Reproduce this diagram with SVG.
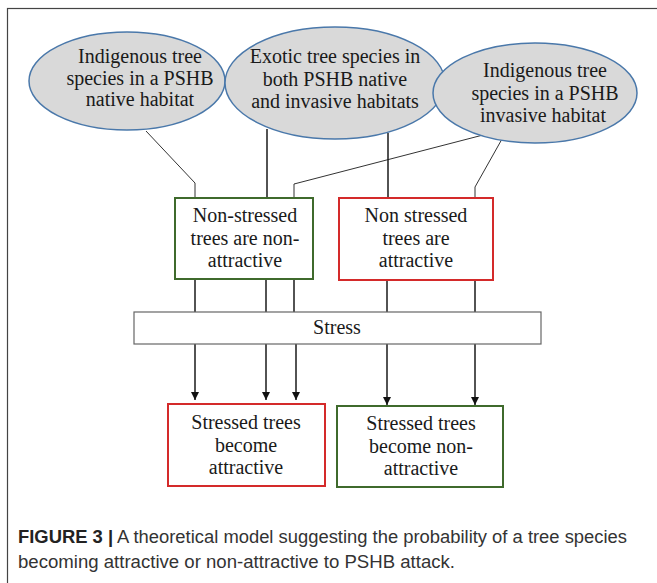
<svg xmlns="http://www.w3.org/2000/svg" width="657" height="583" viewBox="0 0 657 583">
<defs>
<style>
.frame{fill:none;stroke:#444;stroke-width:1.2}
.ell{fill:#d9d9d9;stroke:#4a78aa;stroke-width:1.5}
.t{font-family:"Liberation Serif","Times New Roman",serif;font-size:20px;fill:#1a1a1a;text-anchor:middle}
.green{fill:#fff;stroke:#3f6a2c;stroke-width:2}
.red{fill:#fff;stroke:#d42a2a;stroke-width:2}
.bar{fill:#fff;stroke:#666;stroke-width:1.2}
.v{fill:none;stroke:#1a1a1a;stroke-width:1.5}
.d{fill:none;stroke:#333;stroke-width:1}
.cap{font-family:"Liberation Sans",Arial,sans-serif;font-size:17.5px;fill:#333}
</style>
<marker id="arr" markerUnits="userSpaceOnUse" markerWidth="9" markerHeight="9" refX="8" refY="4" orient="auto">
<path d="M0,0 L8,4 L0,8 z" fill="#111"/>
</marker>
</defs>
<rect width="657" height="583" fill="#fff"/>
<rect class="frame" x="7.5" y="8.5" width="700" height="620"/>

<g id="connectors">
<path class="d" d="M146,131 L195,183 L195,198"/>
<path class="v" d="M267,129 L267,198"/>
<path class="d" d="M483,135 L294,184 L294,198"/>
<path class="v" d="M388,133 L388,198"/>
<path class="d" d="M502,139 L475,187 L475,198"/>
<path class="v" d="M195,279 L195,312"/>
<path class="v" d="M266,279 L266,312"/>
<path class="v" d="M294,279 L294,312"/>
<path class="v" d="M387,280 L387,312"/>
<path class="v" d="M475,280 L475,312"/>
<path class="v" d="M195,344 L195,400" marker-end="url(#arr)"/>
<path class="v" d="M266,344 L266,400" marker-end="url(#arr)"/>
<path class="v" d="M296,344 L296,400" marker-end="url(#arr)"/>
<path class="v" d="M387,344 L387,405" marker-end="url(#arr)"/>
<path class="v" d="M475,344 L475,405" marker-end="url(#arr)"/>
</g>

<g id="ellipse1">
<ellipse class="ell" cx="127" cy="81" rx="98" ry="49"/>
<text class="t" x="140" y="63">Indigenous tree</text>
<text class="t" x="140" y="85">species in a PSHB</text>
<text class="t" x="140" y="106">native habitat</text>
</g>
<g id="ellipse2">
<ellipse class="ell" cx="335" cy="83" rx="110" ry="56"/>
<text class="t" x="335" y="63">Exotic tree species in</text>
<text class="t" x="335" y="86">both PSHB native</text>
<text class="t" x="335" y="108">and invasive habitats</text>
</g>
<g id="ellipse3">
<ellipse class="ell" cx="535" cy="93" rx="102" ry="50"/>
<text class="t" x="545" y="77">Indigenous tree</text>
<text class="t" x="545" y="100">species in a PSHB</text>
<text class="t" x="543" y="122">invasive habitat</text>
</g>

<g id="box-nonstressed-nonattractive">
<rect class="green" x="175" y="198" width="138" height="81"/>
<text class="t" x="245" y="222">Non-stressed</text>
<text class="t" x="245" y="245">trees are non-</text>
<text class="t" x="245" y="267">attractive</text>
</g>
<g id="box-nonstressed-attractive">
<rect class="red" x="339" y="198" width="154" height="82"/>
<text class="t" x="416" y="222">Non stressed</text>
<text class="t" x="416" y="245">trees are</text>
<text class="t" x="416" y="267">attractive</text>
</g>

<g id="stress">
<rect class="bar" x="134" y="312" width="407" height="32"/>
<text class="t" x="337" y="334">Stress</text>
</g>

<g id="box-stressed-attractive">
<rect class="red" x="168" y="404" width="157" height="82"/>
<text class="t" x="246" y="429">Stressed trees</text>
<text class="t" x="246" y="452">become</text>
<text class="t" x="246" y="474">attractive</text>
</g>
<g id="box-stressed-nonattractive">
<rect class="green" x="337" y="406" width="166" height="81"/>
<text class="t" x="421" y="430">Stressed trees</text>
<text class="t" x="421" y="453">become non-</text>
<text class="t" x="421" y="475">attractive</text>
</g>

<g id="caption">
<text class="cap" x="18" y="543" textLength="609" lengthAdjust="spacingAndGlyphs"><tspan font-weight="bold" fill="#222">FIGURE 3 |</tspan> A theoretical model suggesting the probability of a tree species</text>
<text class="cap" x="18" y="568" textLength="437" lengthAdjust="spacingAndGlyphs">becoming attractive or non-attractive to PSHB attack.</text>
</g>
</svg>
